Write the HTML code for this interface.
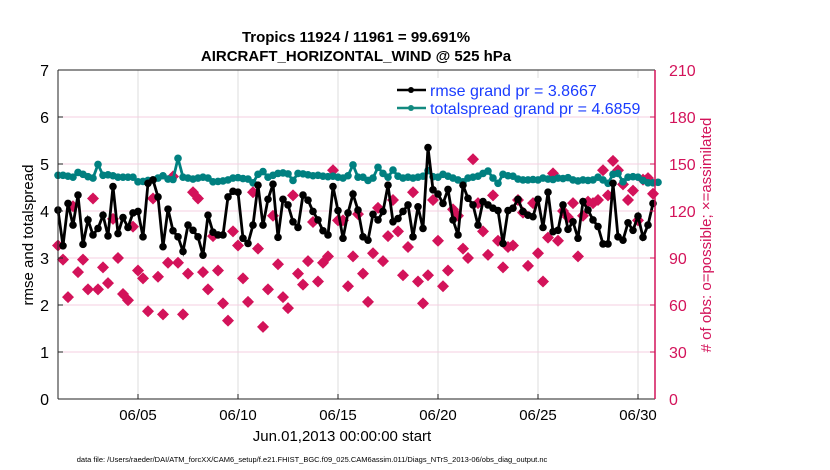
<!DOCTYPE html>
<html><head><meta charset="utf-8"><style>
body{margin:0;background:#fff}
svg{display:block;font-family:"Liberation Sans",Arial,sans-serif}
</style></head><body>
<svg id="chart" width="830" height="470" viewBox="0 0 830 470" xmlns="http://www.w3.org/2000/svg">
<text x="356" y="42" text-anchor="middle" font-size="15" font-weight="bold">Tropics 11924 / 11961 = 99.691%</text>
<text x="356" y="61" text-anchor="middle" font-size="15" font-weight="bold">AIRCRAFT_HORIZONTAL_WIND @ 525 hPa</text>
<g id="grid"></g>
<g id="marks"></g>
<g id="axes"></g>
<text transform="translate(33,235) rotate(-90)" text-anchor="middle" font-size="15">rmse and totalspread</text>
<text transform="translate(711,235) rotate(-90)" text-anchor="middle" font-size="15" fill="#d3135a">#  of obs: o=possible; ×=assimilated</text>
<text x="342" y="441" text-anchor="middle" font-size="15">Jun.01,2013 00:00:00 start</text>
<text x="312" y="462" text-anchor="middle" font-size="7.5">data file: /Users/raeder/DAI/ATM_forcXX/CAM6_setup/f.e21.FHIST_BGC.f09_025.CAM6assim.011/Diags_NTrS_2013-06/obs_diag_output.nc</text>
<g id="legend"></g>
</svg>
<script>
const rmse = [4.02,3.26,4.16,3.70,4.34,3.29,3.81,3.49,3.63,3.91,3.47,4.52,3.52,3.86,3.65,3.96,3.99,3.45,4.59,4.66,4.30,3.24,4.04,3.58,3.45,3.14,3.70,3.59,3.45,3.06,3.91,
3.55,3.49,3.49,4.30,4.42,4.40,3.42,3.31,3.70,4.55,3.70,4.25,4.57,3.44,4.25,4.13,3.77,3.65,4.34,4.23,3.99,3.81,3.58,3.49,4.52,4.01,3.42,3.96,4.36,4.02,
3.45,3.38,3.93,3.81,3.99,4.55,3.77,3.84,3.99,4.13,3.45,4.09,3.63,5.35,4.45,4.36,4.16,4.46,3.81,3.49,4.55,4.27,4.13,3.70,4.20,4.13,4.06,4.01,3.31,4.01,
4.06,4.25,3.99,3.91,3.88,4.25,3.65,4.40,3.56,3.59,4.13,3.61,3.77,3.42,4.20,4.02,3.81,3.67,3.30,3.30,4.59,3.45,3.38,3.75,3.59,3.89,3.44,3.70,4.16];
const spread = [4.76,4.76,4.74,4.72,4.82,4.78,4.73,4.70,4.99,4.76,4.77,4.75,4.72,4.72,4.72,4.72,4.62,4.63,4.65,4.66,4.70,4.75,4.68,4.67,5.12,4.72,4.70,4.68,4.70,4.72,4.70,
4.62,4.63,4.64,4.66,4.70,4.71,4.69,4.68,4.60,4.78,4.84,4.72,4.76,4.80,4.81,4.79,4.65,4.80,4.79,4.77,4.75,4.76,4.74,4.73,4.74,4.72,4.70,4.75,4.98,4.72,
4.72,4.65,4.70,4.93,4.80,4.72,4.87,4.74,4.70,4.72,4.70,4.72,4.74,4.86,4.73,4.72,4.78,4.74,4.70,4.66,4.62,4.70,4.72,4.74,4.80,4.85,4.70,4.59,4.78,4.75,
4.74,4.68,4.66,4.66,4.67,4.66,4.70,4.68,4.67,4.70,4.69,4.71,4.66,4.64,4.66,4.65,4.66,4.72,4.66,4.59,4.78,4.80,4.62,4.72,4.73,4.72,4.65,4.60,4.60,4.61];
const obsCount = [98,89,65,123,81,89,70,128,70,84,74,115,90,67,63,110,82,77,56,128,78,54,87,142,87,54,80,132,128,81,70,
104,82,61,50,107,98,77,62,132,96,46,70,117,86,65,58,130,80,73,88,113,75,87,91,146,114,114,72,91,118,
80,62,93,122,88,104,127,107,79,97,132,75,61,79,127,101,72,82,121,117,96,90,153,125,107,92,130,101,84,97,
98,127,119,85,125,93,75,103,144,101,120,116,125,91,117,126,125,127,146,130,152,146,137,127,133,114,140,141,131];
const leftTicks = [0,1,2,3,4,5,6,7];
const rightTicks = [0,30,60,90,120,150,180,210];
const dateTicks = ["06/05","06/10","06/15","06/20","06/25","06/30"];
const dateTickDays = [4,9,14,19,24,29];
const legendLabels = ["rmse grand pr = 3.8667","totalspread grand pr = 4.6859"];

const NS="http://www.w3.org/2000/svg";
const L=58,R=655,T=70,B=399, DMAX=29.85;
const x=d=>L+(d/DMAX)*(R-L);
const yL=v=>B-(v/7)*(B-T);
const yR=c=>B-(c/210)*(B-T);
function mk(tag,parent,attrs){const e=document.createElementNS(NS,tag);for(const k in attrs)e.setAttribute(k,attrs[k]);parent.appendChild(e);return e;}
const grid=document.getElementById('grid'),marks=document.getElementById('marks'),axes=document.getElementById('axes'),leg=document.getElementById('legend');

dateTickDays.forEach((d,i)=>{
  const g=mk('line',grid,{x1:x(d),x2:x(d),y1:T,y2:B,stroke:'#dcdcdc','stroke-width':1});
  
  
  const t=mk('line',axes,{x1:x(d),x2:x(d),y1:B,y2:B-5,stroke:'#222'});
  
  
  const lb=mk('text',axes,{x:x(d),y:B+21,'text-anchor':'middle','font-size':15});
  lb.textContent=dateTicks[i];
  
  
});
rightTicks.forEach(c=>{
  if(c>0&&c<210){const g=mk('line',grid,{x1:L,x2:R,y1:yR(c),y2:yR(c),stroke:'#f5cfe0','stroke-width':1});
  
  }
  const t=mk('line',axes,{x1:R,x2:R-5,y1:yR(c),y2:yR(c),stroke:'#d3135a'});
  
  
  const lb=mk('text',axes,{x:R+14,y:yR(c)+6,'font-size':16,fill:'#d3135a'});
  lb.textContent=c;
  
  
});
leftTicks.forEach(v=>{
  const t=mk('line',axes,{x1:L,x2:L+5,y1:yL(v),y2:yL(v),stroke:'#222'});
  
  
  const lb=mk('text',axes,{x:L-9,y:yL(v)+6,'text-anchor':'end','font-size':16});
  lb.textContent=v;
  
  
});
const a1=mk('line',axes,{x1:L,x2:L,y1:T,y2:B,stroke:'#222'});


const a2=mk('line',axes,{x1:L,x2:R,y1:B,y2:B,stroke:'#222'});


const a3=mk('line',axes,{x1:L,x2:R,y1:T,y2:T,stroke:'#222'});


const a4=mk('line',axes,{x1:R,x2:R,y1:T,y2:B,stroke:'#d3135a','stroke-width':1.5});



obsCount.forEach((c,i)=>{
  const cx=x(i*0.25),cy=yR(c);
  const p=mk('path',marks,{d:`M${cx} ${cy-6}L${cx+6} ${cy}L${cx} ${cy+6}L${cx-6} ${cy}Z`,fill:'#d3135a'});
  
  
  const q=mk('path',marks,{d:`M${cx-3} ${cy-3}L${cx+3} ${cy+3}M${cx+3} ${cy-3}L${cx-3} ${cy+3}`,stroke:'#d3135a','stroke-width':2});
  
  
});
function series(vals,color,name){
  const pts=vals.map((v,i)=>x(i*0.25)+','+yL(v)).join(' ');
  const pl=mk('polyline',marks,{points:pts,fill:'none',stroke:color,'stroke-width':2.8});
  
  
  vals.forEach((v,i)=>{
    const c=mk('circle',marks,{cx:x(i*0.25),cy:yL(v),r:3.8,fill:color});
    
    
  });
}
series(spread,'#008080','totalspread');
series(rmse,'#000000','rmse');

const lbg=mk('rect',leg,{x:392,y:78,width:258,height:38,fill:'#fff'});


[['#000',90],['#138a80',108]].forEach((s,i)=>{
  const ln=mk('line',leg,{x1:397,x2:426,y1:s[1],y2:s[1],stroke:s[0],'stroke-width':2.5});
  
  
  const c=mk('circle',leg,{cx:411,cy:s[1],r:3,fill:s[0]});
  
  
  const t=mk('text',leg,{x:430,y:s[1]+6,'font-size':16,fill:'#1a3cff'});
  t.textContent=legendLabels[i];
  
  
});
</script>
</body></html>
